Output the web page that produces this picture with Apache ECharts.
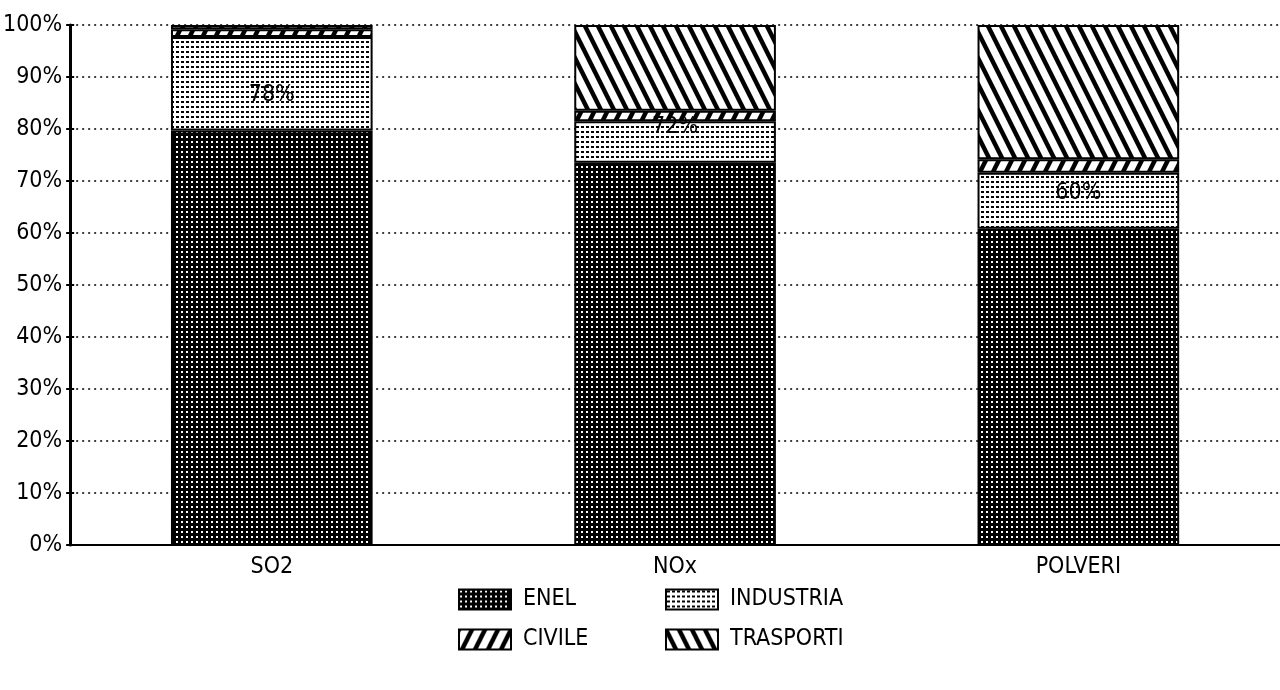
<!DOCTYPE html>
<html>
<head>
<meta charset="utf-8">
<title>Emissioni</title>
<script src="https://cdn.jsdelivr.net/npm/echarts@6/dist/echarts.min.js"></script>
<style>
    html, body { margin: 0; padding: 0; background: #fff; }
    #chart { width: 1280px; height: 690px; }
</style>
</head>
<body>
<div id="chart"></div>
<script>
// Dati (percentuali, ogni colonna somma 100)
const categories = ['SO2', 'NOx', 'POLVERI'];
const enel = [79.7, 73.5, 60.8];
const industria = [18.0, 8.0, 10.8];
const civile = [1.5, 2.0, 2.6];
const trasporti = [0.8, 16.5, 25.8];
const enelLabels = ['78%', '72%', '60%'];
const yTicks = [0, 10, 20, 30, 40, 50, 60, 70, 80, 90, 100];

const FONT = "'Liberation Sans Narrow', 'DejaVu Sans Condensed', sans-serif";
const FONT_SIZE = 23;

// Retini in bianco e nero
function dotTile(bg, fg, size, dw, dh) {
    const c = document.createElement('canvas');
    c.width = size; c.height = size;
    const ctx = c.getContext('2d');
    ctx.fillStyle = bg;
    ctx.fillRect(0, 0, size, size);
    ctx.fillStyle = fg;
    ctx.fillRect(1, 1, dw, dh);
    return c;
}

function hatchTile(backslash) {
    const w = 13, h = 26;
    const c = document.createElement('canvas');
    c.width = w; c.height = h;
    const ctx = c.getContext('2d');
    ctx.fillStyle = '#fff';
    ctx.fillRect(0, 0, w, h);
    ctx.strokeStyle = '#000';
    ctx.lineWidth = 4.5;
    for (let k = -1; k <= 1; k++) {
        ctx.beginPath();
        if (backslash) {
            ctx.moveTo(k * w - w, -h);
            ctx.lineTo(k * w + 2 * w, 2 * h);
        } else {
            ctx.moveTo(k * w + 2 * w, -h);
            ctx.lineTo(k * w - w, 2 * h);
        }
        ctx.stroke();
    }
    return c;
}

const patterns = {
    enel: { image: dotTile('#000', '#fff', 5, 2, 2), repeat: 'repeat' },
    industria: { image: dotTile('#fff', '#000', 5, 3, 2), repeat: 'repeat' },
    civile: { image: hatchTile(false), repeat: 'repeat' },
    trasporti: { image: hatchTile(true), repeat: 'repeat' }
};

const Grafico = {
    chart: null,
    option: null,

    init: function() {
        const dom = document.getElementById('chart');
        this.chart = echarts.init(dom, null, { renderer: 'canvas' });

        const barStyle = (pattern) => ({
            color: pattern,
            borderColor: '#000',
            borderWidth: 2
        });

        const legendItem = (name, left, top) => ({
            data: [name],
            left: left,
            top: top,
            itemWidth: 52,
            itemHeight: 20,
            icon: 'rect',
            selectedMode: false,
            itemStyle: { borderColor: '#000', borderWidth: 2 },
            textStyle: {
                fontFamily: FONT,
                fontSize: FONT_SIZE,
                color: '#000',
                padding: [0, 0, 0, 7]
            }
        });

        this.option = {
            animation: false,
            backgroundColor: '#fff',
            grid: {
                left: 70,
                right: 0,
                top: 25,
                bottom: 145
            },
            legend: [
                legendItem('ENEL', 453, 583),
                legendItem('INDUSTRIA', 660, 583),
                legendItem('CIVILE', 453, 623),
                legendItem('TRASPORTI', 660, 623)
            ],
            xAxis: [
                {
                    type: 'category',
                    data: categories,
                    axisLine: { lineStyle: { color: '#000', width: 2 } },
                    axisTick: { length: 7, lineStyle: { color: '#000', width: 2 } },
                    axisLabel: {
                        fontFamily: FONT,
                        fontSize: FONT_SIZE,
                        color: '#000',
                        margin: 11
                    }
                },
                {
                    type: 'category',
                    data: categories,
                    position: 'bottom',
                    axisLine: { show: false },
                    axisTick: { inside: true, length: 6, lineStyle: { color: '#000', width: 2 } },
                    axisLabel: { show: false }
                }
            ],
            yAxis: [
                {
                    type: 'value',
                    min: yTicks[0],
                    max: yTicks[yTicks.length - 1],
                    interval: 10,
                    axisLine: { show: true, lineStyle: { color: '#000', width: 3 } },
                    axisTick: { show: true, length: 4, lineStyle: { color: '#000', width: 2 } },
                    axisLabel: {
                        formatter: '{value}%',
                        fontFamily: FONT,
                        fontSize: FONT_SIZE,
                        color: '#000',
                        margin: 8
                    },
                    splitLine: {
                        lineStyle: { color: '#000', type: [2, 4], width: 1.5 }
                    }
                },
                {
                    type: 'value',
                    min: yTicks[0],
                    max: yTicks[yTicks.length - 1],
                    interval: 10,
                    position: 'left',
                    axisLine: { show: false },
                    axisTick: { show: true, inside: true, length: 4, lineStyle: { color: '#000', width: 2 } },
                    axisLabel: { show: false },
                    splitLine: { show: false }
                }
            ],
            series: [
                {
                    name: 'ENEL',
                    type: 'bar',
                    stack: 'Totale',
                    barWidth: '50%',
                    itemStyle: barStyle(patterns.enel),
                    label: {
                        show: true,
                        position: 'top',
                        distance: 24,
                        fontFamily: FONT,
                        fontSize: FONT_SIZE,
                        color: '#000',
                        formatter: (p) => enelLabels[p.dataIndex]
                    },
                    data: enel
                },
                {
                    name: 'INDUSTRIA',
                    type: 'bar',
                    stack: 'Totale',
                    itemStyle: barStyle(patterns.industria),
                    data: industria
                },
                {
                    name: 'CIVILE',
                    type: 'bar',
                    stack: 'Totale',
                    itemStyle: barStyle(patterns.civile),
                    data: civile
                },
                {
                    name: 'TRASPORTI',
                    type: 'bar',
                    stack: 'Totale',
                    itemStyle: barStyle(patterns.trasporti),
                    data: trasporti
                }
            ]
        };

        this.chart.setOption(this.option);
        window.addEventListener('resize', this.chart.resize);
    }
};

Grafico.init();
</script>
</body>
</html>
